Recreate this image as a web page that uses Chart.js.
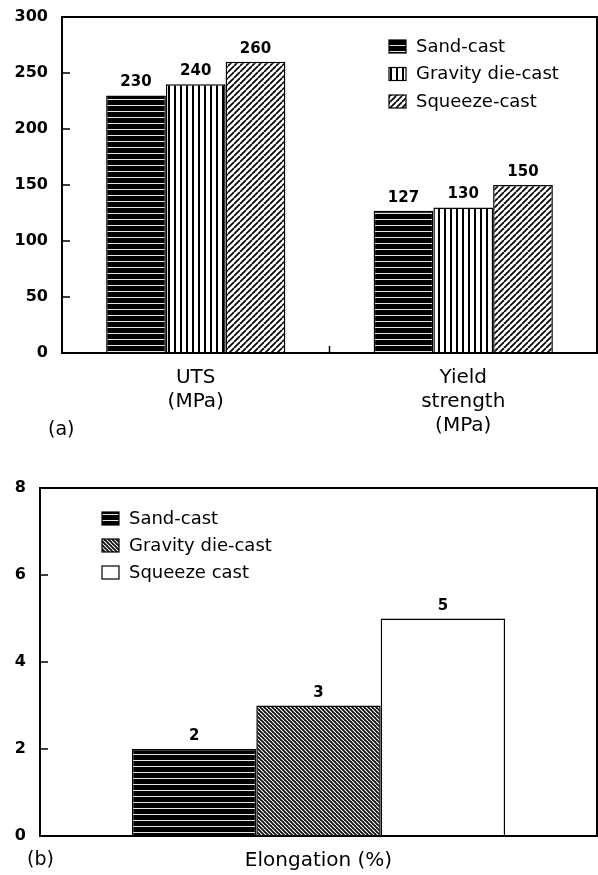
<!DOCTYPE html>
<html>
<head>
<meta charset="utf-8">
<script src="https://cdn.jsdelivr.net/npm/chart.js@4.4.1/dist/chart.umd.min.js"></script>
<style>
  body { margin: 0; background: #fff; }
  .wrap { position: absolute; left: 0; width: 598px; }
  #wrapA { top: 0; height: 445px; }
  #wrapB { top: 445px; height: 430px; }
</style>
</head>
<body>
<div class="wrap" id="wrapA"><canvas id="chartA"></canvas></div>
<div class="wrap" id="wrapB"><canvas id="chartB"></canvas></div>
<script>
// (a) strength
const propLabels = [['UTS', '(MPa)'], ['Yield', 'strength', '(MPa)']];
const sandCast = [230, 127];
const gravityDieCast = [240, 130];
const squeezeCast = [260, 150];
const propTicks = [0, 50, 100, 150, 200, 250, 300];

// (b) elongation
const elongLabels = ['Elongation (%)'];
const elongSand = [2];
const elongGravity = [3];
const elongSqueeze = [5];
const elongTicks = [0, 2, 4, 6, 8];

const FONT = "'DejaVu Sans', Arial, sans-serif";
Chart.defaults.font.family = FONT;
Chart.defaults.color = '#000';

function makePattern(w, h, draw) {
    const c = document.createElement('canvas');
    c.width = w;
    c.height = h;
    const g = c.getContext('2d');
    draw(g, w, h);
    return g.createPattern(c, 'repeat');
}

function diag(size, lw, dir, bg, fg) {
    return makePattern(size, size, (g, s) => {
        g.fillStyle = bg;
        g.fillRect(0, 0, s, s);
        g.strokeStyle = fg;
        g.lineWidth = lw;
        g.beginPath();
        for (const o of [-s, 0, s]) {
            if (dir > 0) { g.moveTo(o, s); g.lineTo(o + s, 0); }
            else { g.moveTo(o, 0); g.lineTo(o + s, s); }
        }
        g.stroke();
    });
}

const hStripes = makePattern(4, 6, (g, w, h) => {
    g.fillStyle = '#000'; g.fillRect(0, 0, w, h);
    g.fillStyle = '#e6e6e6'; g.fillRect(0, 3, w, 1);
});
const vStripes = makePattern(6, 4, (g, w, h) => {
    g.fillStyle = '#fff'; g.fillRect(0, 0, w, h);
    g.fillStyle = '#000'; g.fillRect(0, 0, 2, h);
});
const fwdHatch = diag(6, 1.7, 1, '#fff', '#000');
const backHatch = diag(4, 1.1, -1, '#111', '#fff');

// frame, inward ticks, value labels, legend and panel letter
const decor = {
    id: 'decor',
    afterDatasetsDraw(chart, args, opts) {
        const { ctx, chartArea: a, scales } = chart;
        ctx.save();
        ctx.strokeStyle = '#000';
        ctx.lineWidth = 2;
        ctx.strokeRect(a.left, a.top, a.right - a.left, a.bottom - a.top);

        ctx.lineWidth = 1.5;
        ctx.beginPath();
        scales.y.ticks.forEach((t, i) => {
            if (t.value === scales.y.min || t.value === scales.y.max) return;
            const y = scales.y.getPixelForTick(i);
            ctx.moveTo(a.left, y);
            ctx.lineTo(a.left + 8, y);
        });
        for (let i = 1; i < scales.x.ticks.length; i++) {
            const x = scales.x.getPixelForValue(i - 0.5);
            ctx.moveTo(x, a.bottom);
            ctx.lineTo(x, a.bottom - 7);
        }
        ctx.stroke();

        // values above bars
        ctx.fillStyle = '#000';
        ctx.font = 'bold 15px ' + FONT;
        ctx.textAlign = 'center';
        ctx.textBaseline = 'alphabetic';
        chart.data.datasets.forEach((ds, d) => {
            chart.getDatasetMeta(d).data.forEach((el, i) => {
                ctx.fillText(String(ds.data[i]), el.x, el.y - 9);
            });
        });

        // legend
        ctx.font = '18px ' + FONT;
        ctx.textAlign = 'left';
        ctx.textBaseline = 'middle';
        chart.data.datasets.forEach((ds, d) => {
            const bx = a.left + opts.legendX;
            const by = a.top + opts.legendY + d * opts.rowGap;
            ctx.fillStyle = ds.backgroundColor;
            ctx.fillRect(bx, by, 17, 13);
            ctx.lineWidth = 1.2;
            ctx.strokeRect(bx, by, 17, 13);
            ctx.fillStyle = '#000';
            ctx.fillText(ds.label, bx + 27, by + 7);
        });

        // panel letter
        ctx.font = '19px ' + FONT;
        ctx.fillText(opts.letter, a.left + opts.letterDx, a.bottom + opts.letterDy);
        ctx.restore();
    }
};

function barSet(label, data, fill) {
    return {
        label: label,
        data: data,
        backgroundColor: fill,
        borderColor: '#000',
        borderWidth: 1.5,
        borderSkipped: 'bottom',
        barPercentage: 1,
        categoryPercentage: 0.67
    };
}

function axes(ticks, yWidth, xHeight) {
    return {
        x: {
            grid: { display: false, drawTicks: false },
            border: { display: false },
            ticks: { font: { size: 20, lineHeight: 1.2 }, padding: 13, maxRotation: 0 },
            afterFit: s => { s.height = xHeight; }
        },
        y: {
            min: ticks[0],
            max: ticks[ticks.length - 1],
            grid: { display: false, drawTicks: false },
            border: { display: false },
            ticks: { stepSize: ticks[1] - ticks[0], font: { size: 16, weight: 'bold' }, padding: 14 },
            afterFit: s => { s.width = yWidth; s.paddingTop = 0; s.paddingBottom = 0; }
        }
    };
}

new Chart(document.getElementById('chartA'), {
    type: 'bar',
    data: {
        labels: propLabels,
        datasets: [
            barSet('Sand-cast', sandCast, hStripes),
            barSet('Gravity die-cast', gravityDieCast, vStripes),
            barSet('Squeeze-cast', squeezeCast, fwdHatch)
        ]
    },
    options: {
        responsive: true,
        maintainAspectRatio: false,
        animation: false,
        layout: { padding: { top: 17, right: 1, left: 0, bottom: 0 } },
        scales: axes(propTicks, 62, 92),
        plugins: {
            legend: { display: false },
            tooltip: { enabled: false },
            decor: { legendX: 327, legendY: 23, rowGap: 27.5, letter: '(a)', letterDx: -14, letterDy: 77 }
        }
    },
    plugins: [decor]
});

new Chart(document.getElementById('chartB'), {
    type: 'bar',
    data: {
        labels: elongLabels,
        datasets: [
            barSet('Sand-cast', elongSand, hStripes),
            barSet('Gravity die-cast', elongGravity, backHatch),
            barSet('Squeeze cast', elongSqueeze, '#fff')
        ]
    },
    options: {
        responsive: true,
        maintainAspectRatio: false,
        animation: false,
        layout: { padding: { top: 43, right: 1, left: 0, bottom: 0 } },
        scales: axes(elongTicks, 40, 39),
        plugins: {
            legend: { display: false },
            tooltip: { enabled: false },
            decor: { legendX: 62, legendY: 24, rowGap: 27, letter: '(b)', letterDx: -13, letterDy: 24 }
        }
    },
    plugins: [decor]
});
</script>
</body>
</html>
